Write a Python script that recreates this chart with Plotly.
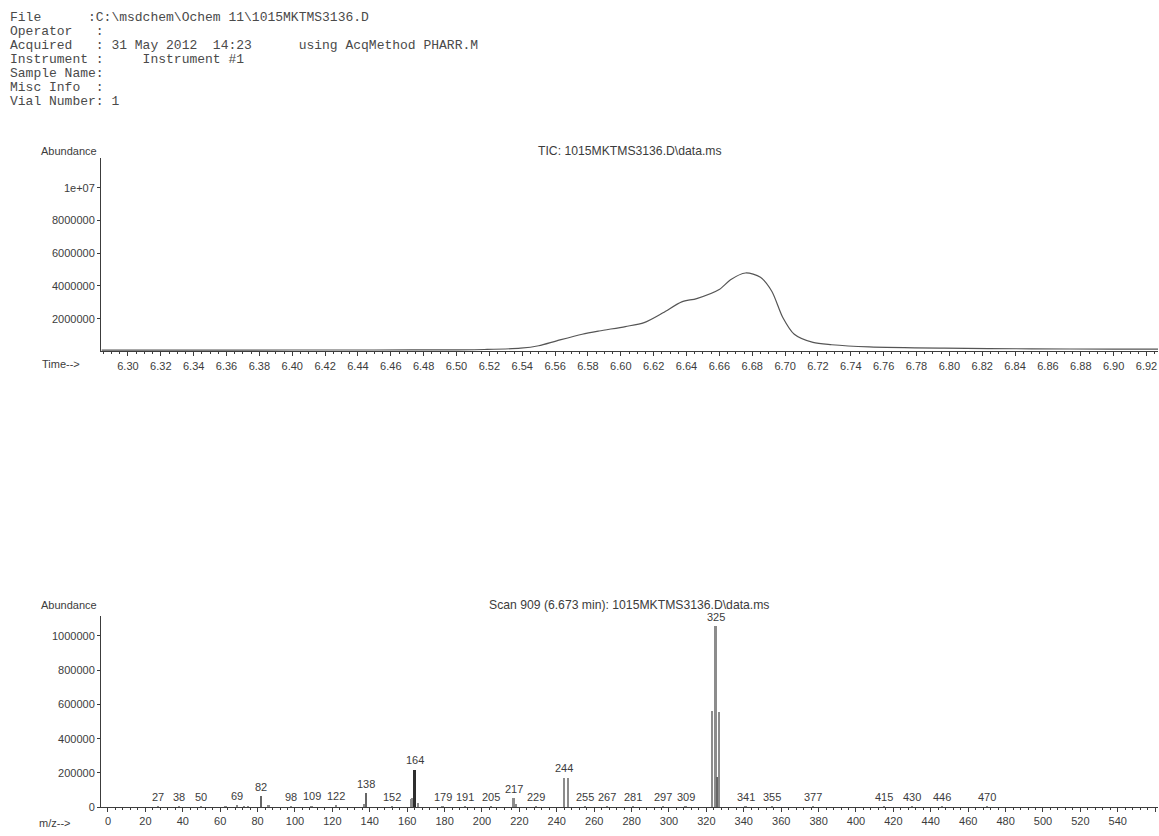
import plotly.graph_objects as go

W, H = 1159, 836

# ---- header block (ChemStation report) ----
header_lines = [
    "File      :C:\\msdchem\\Ochem 11\\1015MKTMS3136.D",
    "Operator   :",
    "Acquired   : 31 May 2012  14:23      using AcqMethod PHARR.M",
    "Instrument :     Instrument #1",
    "Sample Name:",
    "Misc Info  :",
    "Vial Number: 1",
]

# ---- total ion chromatogram ----
tic_time = [6.284, 6.30, 6.35, 6.40, 6.45, 6.50, 6.517, 6.539, 6.550, 6.561,
            6.5765, 6.5868, 6.6028, 6.6142, 6.6257, 6.6371, 6.6462,
            6.6599, 6.6668, 6.6759, 6.685, 6.6919, 6.6987, 6.7056, 6.717,
            6.7284, 6.7512, 6.7969, 6.85, 6.90, 6.927]
tic_abund = [0.08e6, 0.08e6, 0.08e6, 0.09e6, 0.09e6, 0.10e6, 0.12e6, 0.20e6, 0.35e6, 0.65e6,
             1.05e6, 1.25e6, 1.52e6, 1.76e6, 2.36e6, 3.03e6, 3.23e6,
             3.78e6, 4.38e6, 4.79e6, 4.53e6, 3.68e6, 2.06e6, 1.05e6, 0.55e6,
             0.41e6, 0.28e6, 0.20e6, 0.16e6, 0.14e6, 0.14e6]
tic_yticks = [2000000, 4000000, 6000000, 8000000, 10000000]
tic_yticklabels = ["2000000", "4000000", "6000000", "8000000", "1e+07"]

# ---- mass spectrum, scan 909 ----
ms_mz = [27, 38, 50, 63, 69, 73, 75, 82, 86, 98, 109, 122, 137, 138, 152,
         162, 163, 164, 166, 179, 191, 205, 217, 218, 229, 244, 246, 255,
         267, 281, 297, 309, 323, 325, 326, 327, 341, 355, 377, 415, 430,
         446, 470]
ms_abund = [6000, 7000, 8000, 12000, 15000, 10000, 12000, 68000, 14000, 9000,
            11000, 13000, 20000, 83000, 8000, 50000, 55000, 220000, 25000,
            6000, 6000, 6000, 55000, 20000, 6000, 175000, 175000, 9000, 6000,
            6000, 5000, 6000, 565000, 1060000, 180000, 560000, 6000, 6000,
            5000, 4000, 5000, 4000, 4000]
ms_labelled = [27, 38, 50, 69, 82, 98, 109, 122, 138, 152, 164, 179, 191, 205,
               217, 229, 244, 255, 267, 281, 297, 309, 325, 341, 355, 377, 415,
               430, 446, 470]
ms_yticks = [0, 200000, 400000, 600000, 800000, 1000000]
ms_yticklabels = ["0", "200000", "400000", "600000", "800000", "1000000"]

INK = "#3c3c3c"
SANS = "Liberation Sans, Arial, sans-serif"
MONO = "Liberation Mono, Courier New, monospace"


def px(xp):
    return xp / W


def py(yp):
    return 1 - yp / H


fig = go.Figure()

fig.add_trace(go.Scatter(
    x=tic_time, y=tic_abund, mode="lines",
    line=dict(color="#555555", width=1.2, shape="spline", smoothing=0.8),
    xaxis="x", yaxis="y", hoverinfo="skip", showlegend=False,
))

bar_colors = []
for m in ms_mz:
    if m == 164:
        bar_colors.append("#2e2e2e")
    elif m in (326, 138, 82):
        bar_colors.append("#666666")
    else:
        bar_colors.append("#8c8c8c")

fig.add_trace(go.Bar(
    x=ms_mz, y=ms_abund, width=0.9,
    marker=dict(color=bar_colors, line=dict(width=0)),
    xaxis="x2", yaxis="y2", hoverinfo="skip", showlegend=False,
))

axis_common = dict(
    showline=True, linecolor=INK, linewidth=1, showgrid=False, zeroline=False,
    ticks="outside", tickcolor=INK, tickfont=dict(family=SANS, size=11, color=INK),
)

fig.update_layout(
    width=W, height=H, autosize=False,
    margin=dict(l=0, r=0, t=0, b=0),
    paper_bgcolor="white", plot_bgcolor="white",
    bargap=0,
    xaxis=dict(
        domain=[px(101), px(1158)], range=[6.2836, 6.927], anchor="y",
        tickmode="linear", tick0=6.30, dtick=0.02, tickformat=".2f", ticklen=4,
        minor=dict(dtick=0.005, ticklen=2, tickcolor=INK, ticks="outside"),
        **axis_common,
    ),
    yaxis=dict(
        domain=[py(354), py(159)], range=[0, 11.82e6], anchor="x",
        tickvals=tic_yticks, ticktext=tic_yticklabels, ticklen=3,
        **axis_common,
    ),
    xaxis2=dict(
        domain=[px(101), px(1158)], range=[-3.74, 561.5], anchor="y2",
        tickmode="linear", tick0=0, dtick=20, ticklen=4,
        minor=dict(dtick=4, ticklen=2, tickcolor=INK, ticks="outside"),
        **axis_common,
    ),
    yaxis2=dict(
        domain=[py(813), py(620)], range=[0, 1.119e6], anchor="x2",
        tickvals=ms_yticks, ticktext=ms_yticklabels, ticklen=3,
        **axis_common,
    ),
)

annotations = []

# header lines, monospaced
header_y = [18, 32, 46, 60, 74, 88, 102]
for text, yp in zip(header_lines, header_y):
    annotations.append(dict(
        text=text.replace(" ", "\u00a0"), x=px(8), y=py(yp),
        xref="paper", yref="paper", xanchor="left", yanchor="middle",
        showarrow=False, font=dict(family=MONO, size=13, color="#4a4a4a"),
    ))

# panel captions
captions = [
    ("Abundance", px(99), py(152), "right", 11),
    ("TIC: 1015MKTMS3136.D\\data.ms", px(630), py(152), "center", 12.2),
    ("Time-->", px(40), py(367), "left", 11),
    ("Abundance", px(99), py(609), "right", 11),
    ("Scan 909 (6.673 min): 1015MKTMS3136.D\\data.ms", px(629), py(609), "center", 12.2),
    ("m/z-->", px(37), py(829), "left", 11),
]
for text, xx, yy, anchor, fs in captions:
    annotations.append(dict(
        text=text, x=xx, y=yy, xref="paper", yref="paper",
        xanchor=anchor, yanchor="middle", showarrow=False,
        font=dict(family=SANS, size=fs, color=INK),
    ))

# peak labels in the spectrum
for m in ms_labelled:
    v = ms_abund[ms_mz.index(m)]
    annotations.append(dict(
        text=str(m), x=m, y=v, xref="x2", yref="y2",
        xanchor="center", yanchor="bottom", yshift=1, showarrow=False,
        font=dict(family=SANS, size=11, color=INK),
    ))

fig.update_layout(annotations=annotations)

fig.write_html("out.html")
